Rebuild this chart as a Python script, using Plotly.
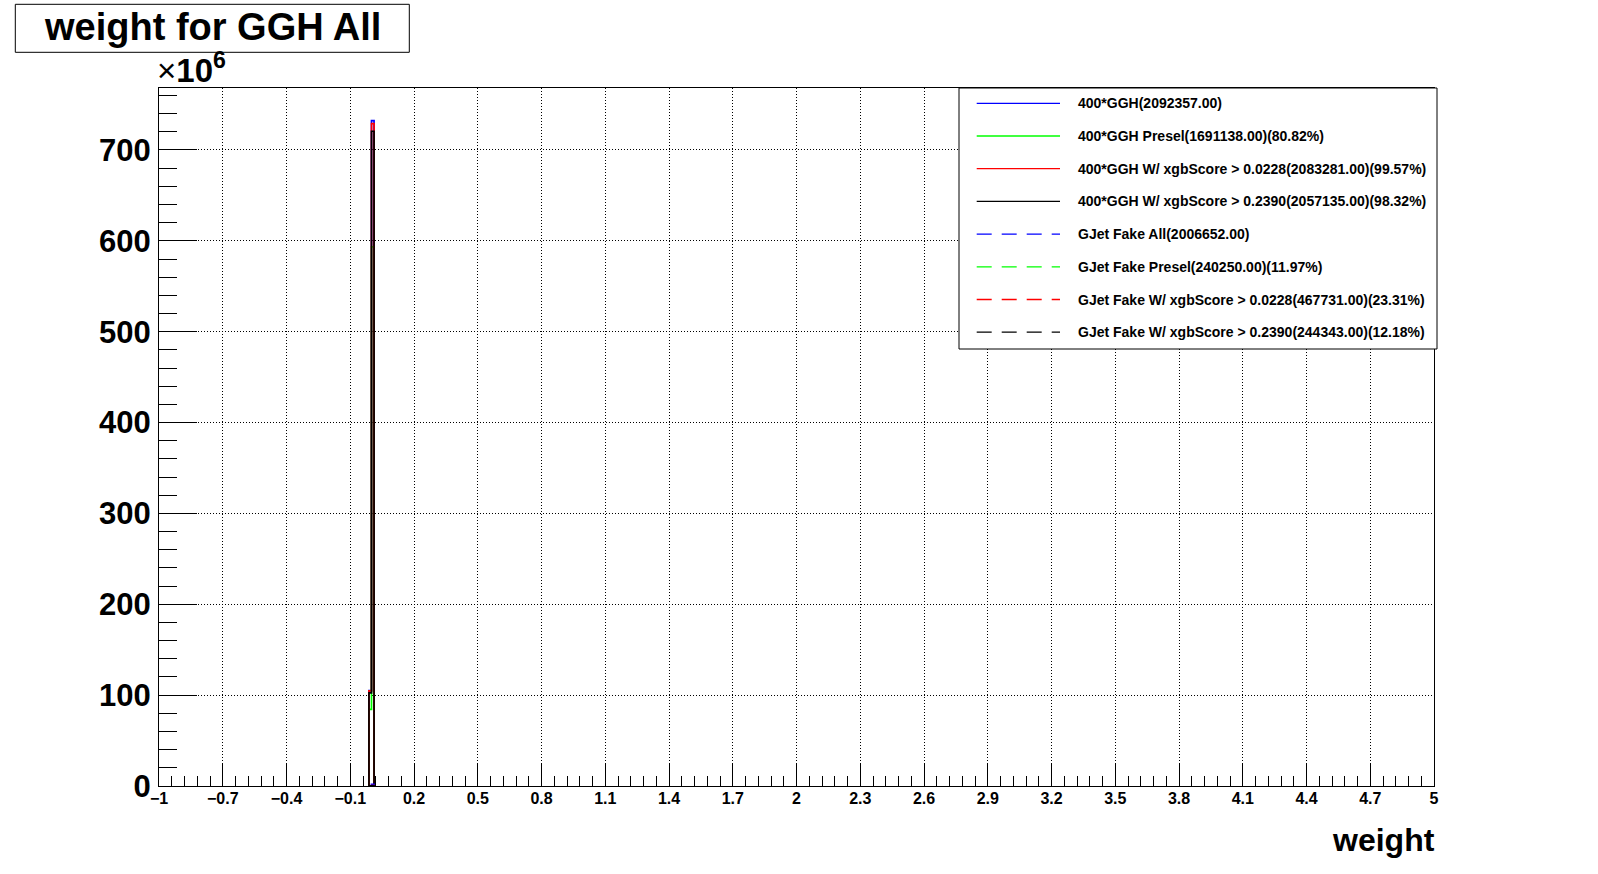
import plotly.graph_objects as go

# ---------------- data (bin contents in units of 1e6) ----------------
bin_edges = [-0.012, 0.0, 0.012]
ggh_all = [105.0, 732.3]
ggh_presel = [84.4, 593.3]
ggh_xgb_0228 = [104.8, 729.0]
ggh_xgb_2390 = [102.4, 720.6]
gjet_all = [0.3, 1.7]
gjet_presel = [0.03, 0.2]
gjet_xgb_0228 = [0.07, 0.4]
gjet_xgb_2390 = [0.04, 0.2]

series_values = [ggh_all, ggh_presel, ggh_xgb_0228, ggh_xgb_2390,
                 gjet_all, gjet_presel, gjet_xgb_0228, gjet_xgb_2390]
series_labels = [
    "400*GGH(2092357.00)",
    "400*GGH Presel(1691138.00)(80.82%)",
    "400*GGH W/ xgbScore > 0.0228(2083281.00)(99.57%)",
    "400*GGH W/ xgbScore > 0.2390(2057135.00)(98.32%)",
    "GJet Fake All(2006652.00)",
    "GJet Fake Presel(240250.00)(11.97%)",
    "GJet Fake W/ xgbScore > 0.0228(467731.00)(23.31%)",
    "GJet Fake W/ xgbScore > 0.2390(244343.00)(12.18%)",
]
series_colors = ["#0000ff", "#00ff00", "#ff0000", "#000000",
                 "#0000ff", "#00ff00", "#ff0000", "#000000"]
series_dash = ["solid"] * 4 + ["15px,10px"] * 4

x_tick_values = [-1, -0.7, -0.4, -0.1, 0.2, 0.5, 0.8, 1.1, 1.4, 1.7, 2,
                 2.3, 2.6, 2.9, 3.2, 3.5, 3.8, 4.1, 4.4, 4.7, 5]
x_tick_labels = ["\u22121", "\u22120.7", "\u22120.4", "\u22120.1", "0.2", "0.5",
                 "0.8", "1.1", "1.4", "1.7", "2", "2.3", "2.6", "2.9", "3.2",
                 "3.5", "3.8", "4.1", "4.4", "4.7", "5"]
y_tick_values = [0, 100, 200, 300, 400, 500, 600, 700]
y_tick_labels = ["0", "100", "200", "300", "400", "500", "600", "700"]

title_text = "weight for GGH All"
x_title = "weight"
y_exponent = "\u00d7<b>10<sup>6</sup></b>"

# ---------------- layout geometry ----------------
W, H = 1598, 874
PL, PR, PT, PB = 159, 1434, 88, 786
FONT = "Liberation Sans, Arial, Helvetica, sans-serif"


def fx(p):
    return (p - PL) / (PR - PL)


def fy(p):
    return (PB - p) / (PB - PT)


fig = go.Figure()

for vals, col, dash in zip(series_values, series_colors, series_dash):
    xs = [bin_edges[0]] + list(bin_edges)
    ys = [0] + list(vals) + [0]
    fig.add_trace(go.Scatter(x=xs, y=ys, mode="lines", line_shape="hv",
                             line=dict(color=col, width=1.7, dash=dash),
                             hoverinfo="skip", showlegend=False))

shapes = []
annotations = []

# title box
shapes.append(dict(type="rect", xref="paper", yref="paper",
                   x0=fx(15.3), x1=fx(409.3), y0=fy(52.3), y1=fy(4.3),
                   line=dict(color="black", width=1), fillcolor="white", layer="above"))
annotations.append(dict(text=title_text, xref="paper", yref="paper",
                        x=fx(212.3), y=fy(27.5), xanchor="center", yanchor="middle",
                        showarrow=False, font=dict(family=FONT, size=38, color="black", weight="bold")))

# exponent
annotations.append(dict(text=y_exponent, xref="paper", yref="paper",
                        x=fx(155), y=fy(68), xanchor="left", yanchor="middle",
                        showarrow=False, font=dict(family=FONT, size=33, color="black")))

# x axis title
annotations.append(dict(text=x_title, xref="paper", yref="paper",
                        x=fx(1437), y=fy(840), xanchor="right", yanchor="middle",
                        showarrow=False, font=dict(family=FONT, size=32, color="black", weight="bold")))

# legend box
LX0, LX1, LY0, LY1 = 959, 1437, 88, 349
shapes.append(dict(type="rect", xref="paper", yref="paper",
                   x0=fx(LX0), x1=fx(LX1), y0=fy(LY1), y1=fy(LY0),
                   line=dict(color="black", width=1), fillcolor="white", layer="above"))
row_y0, row_dy = 103.3, 32.7
for i, (lab, col, dash) in enumerate(zip(series_labels, series_colors, series_dash)):
    yy = row_y0 + i * row_dy
    shapes.append(dict(type="line", xref="paper", yref="paper",
                       x0=fx(976.7), x1=fx(1060), y0=fy(yy), y1=fy(yy),
                       line=dict(color=col, width=1.3, dash=dash), layer="above"))
    annotations.append(dict(text=lab, xref="paper", yref="paper",
                            x=fx(1076), y=fy(yy), xanchor="left", yanchor="middle",
                            showarrow=False,
                            font=dict(family=FONT, size=14, color="black", weight="bold")))

fig.update_layout(
    width=W, height=H,
    margin=dict(l=PL, r=W - PR, t=PT, b=H - PB, pad=0, autoexpand=False),
    paper_bgcolor="white", plot_bgcolor="white",
    showlegend=False,
    shapes=shapes, annotations=annotations,
    xaxis=dict(range=[-1, 5], tickmode="array", tickvals=x_tick_values, ticktext=x_tick_labels,
               ticks="inside", ticklen=23, tickwidth=1, tickcolor="black",
               showline=True, linecolor="black", linewidth=1, mirror=True,
               showgrid=True, gridcolor="black", gridwidth=1, griddash="1px,2px",
               zeroline=False, automargin=False, ticklabelstandoff=-2,
               tickfont=dict(family=FONT, size=16, color="black", weight="bold"),
               minor=dict(tickmode="linear", tick0=-1, dtick=0.06, ticks="inside",
                          ticklen=10, tickwidth=1, tickcolor="black", showgrid=False)),
    yaxis=dict(range=[0, 768.2], tickmode="array", tickvals=y_tick_values, ticktext=y_tick_labels,
               ticks="inside", ticklen=38, tickwidth=1, tickcolor="black",
               showline=True, linecolor="black", linewidth=1, mirror=True,
               showgrid=True, gridcolor="black", gridwidth=1, griddash="1px,2px",
               zeroline=False, automargin=False, ticklabelstandoff=1,
               tickfont=dict(family=FONT, size=31, color="black", weight="bold"),
               minor=dict(tickmode="linear", tick0=0, dtick=20, ticks="inside",
                          ticklen=18, tickwidth=1, tickcolor="black", showgrid=False)),
)

fig.write_html("out.html")
